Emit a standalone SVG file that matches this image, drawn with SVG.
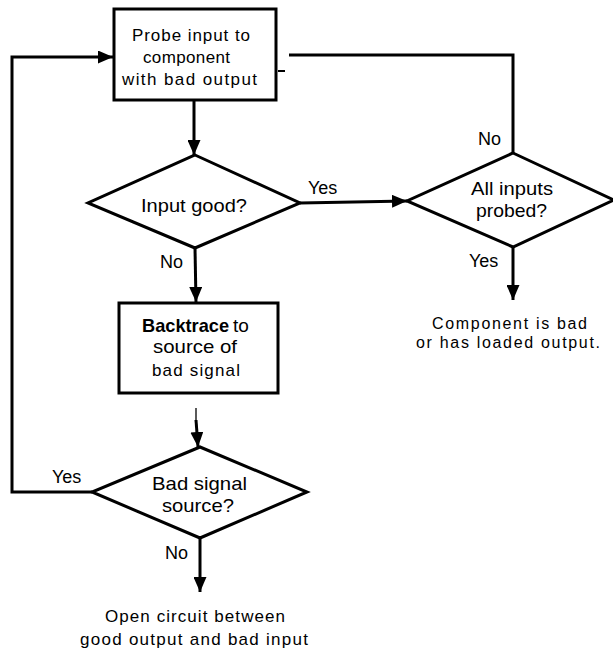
<svg xmlns="http://www.w3.org/2000/svg" width="613" height="653" viewBox="0 0 613 653">
<style>
  .ln { fill: none; stroke: #000; stroke-width: 3; }
  .thin { fill: none; stroke: #000; stroke-width: 1.3; }
  .shape { fill: #fff; stroke: #000; stroke-width: 3; }
  .sp { font-family: "Liberation Sans", Arial, sans-serif; font-size: 17px; fill: #000; }
  .sm { font-size: 16px; }
  .hv { font-family: "Liberation Sans", Arial, sans-serif; font-size: 19px; fill: #000; }
  .lbl { font-family: "Liberation Sans", Arial, sans-serif; font-size: 18px; fill: #000; }
  .b { font-weight: bold; }
</style>
<defs>
  <marker id="arr" markerUnits="userSpaceOnUse" markerWidth="15" markerHeight="13" refX="15" refY="6.5" orient="auto">
    <path d="M0,0 L15,6.5 L0,13 z" fill="#000"/>
  </marker>
</defs>
<rect width="613" height="653" fill="#fff"/>

<g id="connectors">
  <line class="ln" x1="194" y1="100" x2="194" y2="155" marker-end="url(#arr)"/>
  <line class="ln" x1="300" y1="203" x2="407" y2="201" marker-end="url(#arr)"/>
  <line class="ln" x1="195" y1="248" x2="196" y2="302" marker-end="url(#arr)"/>
  <line class="ln" x1="513" y1="247" x2="513" y2="300" marker-end="url(#arr)"/>
  <polyline class="ln" points="513,153 513,55 289,55"/>
  <line class="ln" x1="278" y1="71" x2="285" y2="71" style="stroke-width:2"/>
  <line class="thin" x1="196" y1="408" x2="196" y2="425"/>
  <line class="ln" x1="196" y1="420" x2="198" y2="447" marker-end="url(#arr)"/>
  <polyline class="ln" points="92,492 12,492 12,57 113,57" marker-end="url(#arr)"/>
  <line class="ln" x1="200" y1="538" x2="200" y2="592" marker-end="url(#arr)"/>
</g>

<g id="probe">
  <rect class="shape" x="114" y="9" width="162" height="91"/>
  <text class="sp" x="132" y="41" textLength="118" lengthAdjust="spacing">Probe input to</text>
  <text class="sp" x="143" y="63" textLength="87" lengthAdjust="spacing">component</text>
  <text class="sp" x="122" y="85" textLength="135" lengthAdjust="spacing">with bad output</text>
</g>

<g id="input-good">
  <polygon class="shape" points="195,155 300,203 195,248 88,203"/>
  <text class="hv" x="141" y="212" textLength="106" lengthAdjust="spacingAndGlyphs">Input good?</text>
</g>

<g id="all-inputs">
  <polygon class="shape" points="513,153 614,200 513,247 407,201"/>
  <text class="hv" x="471" y="195" textLength="82" lengthAdjust="spacingAndGlyphs">All inputs</text>
  <text class="hv" x="476" y="217" textLength="71" lengthAdjust="spacingAndGlyphs">probed?</text>
</g>

<g id="backtrace">
  <rect class="shape" x="119" y="303" width="159" height="90"/>
  <text class="hv b" x="142" y="332" textLength="87" lengthAdjust="spacingAndGlyphs">Backtrace</text>
  <text class="hv" x="233" y="332">to</text>
  <text class="hv" x="153" y="353" textLength="84" lengthAdjust="spacingAndGlyphs">source of</text>
  <text class="sp" x="152" y="376" textLength="88" lengthAdjust="spacing">bad signal</text>
</g>

<g id="bad-signal">
  <polygon class="shape" points="200,447 307,492 200,538 92,492"/>
  <text class="hv" x="152" y="490" textLength="95" lengthAdjust="spacingAndGlyphs">Bad signal</text>
  <text class="hv" x="162" y="512" textLength="72" lengthAdjust="spacingAndGlyphs">source?</text>
</g>

<g id="component-bad">
  <text class="sp sm" x="432" y="329" textLength="155" lengthAdjust="spacing">Component is bad</text>
  <text class="sp sm" x="416" y="348" textLength="184" lengthAdjust="spacing">or has loaded output.</text>
</g>

<g id="open-circuit">
  <text class="sp" x="105" y="622" textLength="180" lengthAdjust="spacing">Open circuit between</text>
  <text class="sp" x="80" y="645" textLength="228" lengthAdjust="spacing">good output and bad input</text>
</g>

<g id="labels">
  <text class="lbl" x="308" y="194">Yes</text>
  <text class="lbl" x="160" y="268">No</text>
  <text class="lbl" x="478" y="145">No</text>
  <text class="lbl" x="469" y="267">Yes</text>
  <text class="lbl" x="52" y="483">Yes</text>
  <text class="lbl" x="165" y="559">No</text>
</g>
</svg>
